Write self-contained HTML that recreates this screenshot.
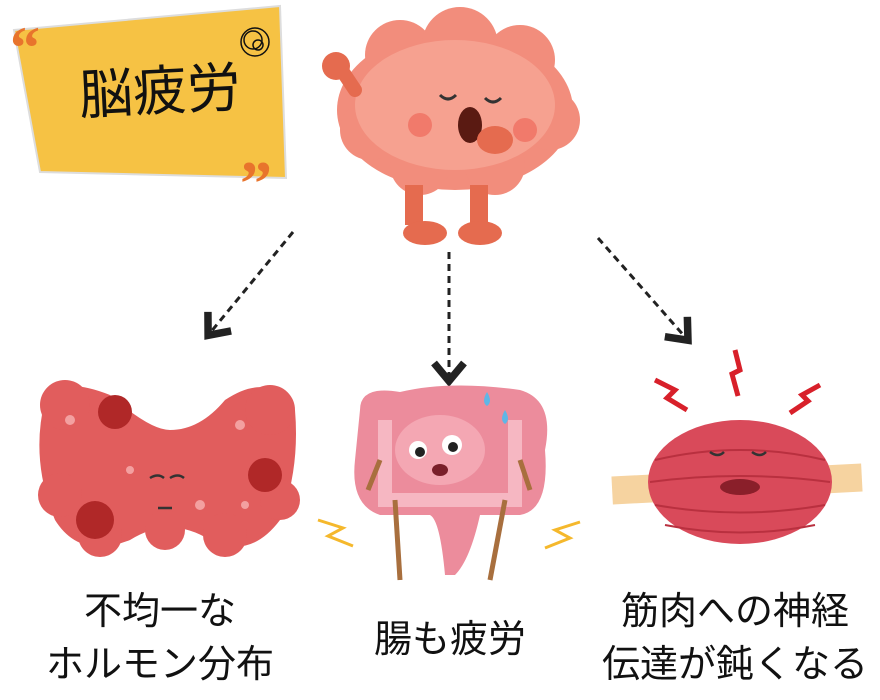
<!DOCTYPE html>
<html><head><meta charset="utf-8"><style>
html,body{margin:0;padding:0;background:#fff;width:880px;height:700px;overflow:hidden}
.t{position:absolute;font-family:"Liberation Sans","Noto Sans CJK JP",sans-serif;color:#111;font-size:38px;line-height:44px;text-align:center;white-space:nowrap}
</style></head><body>
<svg width="880" height="700" style="position:absolute;left:0;top:0">
<defs><marker id="a" markerWidth="12" markerHeight="12" refX="6" refY="6" orient="auto"><path d="M1,1 L7,6 L1,11" fill="none" stroke="#222" stroke-width="2.5"/></marker></defs>
<!-- card -->
<path d="M14,30 L280,6 L286,178 L40,172 Z" fill="#f6c244" stroke="#ddd" stroke-width="2"/>
<text x="10" y="68" font-size="60" fill="#e8742c" font-family="Liberation Serif" font-weight="bold">“</text>
<text x="240" y="205" font-size="64" fill="#e8742c" font-family="Liberation Serif" font-weight="bold">”</text>
<circle cx="255" cy="42" r="14" fill="none" stroke="#111" stroke-width="1.5"/>
<circle cx="253" cy="40" r="9" fill="none" stroke="#111" stroke-width="1.5"/>
<circle cx="258" cy="45" r="5" fill="none" stroke="#111" stroke-width="1.5"/>
<!-- brain -->
<g fill="#f28d7c">
<ellipse cx="455" cy="110" rx="118" ry="80"/>
<circle cx="400" cy="55" r="35"/><circle cx="460" cy="45" r="38"/><circle cx="520" cy="60" r="35"/>
<circle cx="550" cy="120" r="30"/><circle cx="370" cy="130" r="30"/><circle cx="420" cy="165" r="30"/><circle cx="495" cy="165" r="30"/>
</g>
<ellipse cx="455" cy="105" rx="100" ry="65" fill="#f6a190"/>
<path d="M335,60 L355,90" stroke="#e56b4f" stroke-width="14" stroke-linecap="round"/>
<circle cx="336" cy="66" r="14" fill="#e56b4f"/>
<rect x="405" y="185" width="18" height="40" fill="#e56b4f"/><rect x="470" y="185" width="18" height="40" fill="#e56b4f"/>
<ellipse cx="425" cy="233" rx="22" ry="12" fill="#e56b4f"/><ellipse cx="480" cy="233" rx="22" ry="12" fill="#e56b4f"/>
<ellipse cx="470" cy="125" rx="12" ry="18" fill="#5a1a12"/>
<ellipse cx="495" cy="140" rx="18" ry="14" fill="#e56b4f"/>
<circle cx="420" cy="125" r="12" fill="#f17a6b"/><circle cx="525" cy="130" r="12" fill="#f17a6b"/>
<path d="M440,95 q8,8 16,0 M485,98 q8,8 16,0" stroke="#333" stroke-width="3" fill="none"/>
<!-- arrows -->
<g stroke="#222" stroke-width="3" stroke-dasharray="7,5" fill="none">
<path d="M293,232 L210,333" marker-end="url(#a)"/>
<path d="M449,252 L449,378" marker-end="url(#a)"/>
<path d="M598,238 L686,338" marker-end="url(#a)"/>
</g>
<!-- thyroid -->
<g fill="#e15d5d">
<path d="M45,400 Q60,375 110,395 Q150,430 170,430 Q200,430 225,400 Q270,370 295,410 Q300,470 280,520 Q250,560 210,540 Q170,515 130,540 Q80,560 55,520 Q30,460 45,400 Z"/>
<circle cx="65" cy="405" r="25"/><circle cx="270" cy="410" r="25"/><circle cx="60" cy="495" r="22"/><circle cx="280" cy="500" r="20"/>
<circle cx="100" cy="535" r="22"/><circle cx="225" cy="535" r="22"/><circle cx="165" cy="530" r="20"/>
</g>
<circle cx="115" cy="412" r="17" fill="#b02828"/><circle cx="265" cy="475" r="17" fill="#b02828"/><circle cx="95" cy="520" r="19" fill="#b02828"/>
<g fill="#f3a0a0"><circle cx="70" cy="420" r="5"/><circle cx="240" cy="425" r="5"/><circle cx="200" cy="505" r="5"/><circle cx="130" cy="470" r="4"/><circle cx="245" cy="505" r="4"/></g>
<path d="M150,478 q8,-5 14,0 M170,478 q8,-5 14,0 M158,508 h14" stroke="#333" stroke-width="2.5" fill="none"/>
<!-- intestine -->
<path d="M360,410 Q360,385 400,392 Q450,380 520,390 Q555,400 545,450 Q550,510 520,515 L480,515 Q470,560 455,575 L445,575 Q440,520 430,515 L380,515 Q350,505 355,460 Z" fill="#ec8c9c"/>
<path d="M385,420 L385,500 L515,500 L515,420" stroke="#f6b7c2" stroke-width="14" fill="none"/>
<ellipse cx="440" cy="450" rx="45" ry="35" fill="#f4a7b3"/>
<circle cx="418" cy="450" r="9" fill="#fff"/><circle cx="452" cy="445" r="10" fill="#fff"/>
<circle cx="420" cy="452" r="5" fill="#222"/><circle cx="453" cy="447" r="5" fill="#222"/>
<ellipse cx="440" cy="470" rx="8" ry="6" fill="#7a1f2a"/>
<path d="M487,392 q6,10 0,14 q-6,-4 0,-14 M505,410 q6,10 0,14 q-6,-4 0,-14" fill="#5fb6e6"/>
<path d="M395,500 L400,580 M505,500 L490,580 M380,460 L368,490 M520,460 L530,490" stroke="#a86f3e" stroke-width="5"/>
<path d="M318,520 l25,8 l-15,8 l25,10 M580,522 l-25,8 l15,8 l-25,10" stroke="#f5b82c" stroke-width="3" fill="none"/>
<!-- muscle -->
<rect x="612" y="470" width="250" height="28" fill="#f6d3a0" transform="rotate(-3 737 484)"/>
<ellipse cx="740" cy="482" rx="92" ry="62" fill="#d94a5a"/>
<g stroke="#b9303f" stroke-width="2" fill="none">
<path d="M655,460 Q740,440 825,460"/><path d="M650,482 Q740,470 830,482"/><path d="M655,505 Q740,520 825,505"/><path d="M665,525 Q740,540 815,525"/></g>
<ellipse cx="740" cy="487" rx="20" ry="8" fill="#8a1f2a"/>
<path d="M710,452 q8,6 14,0 M752,452 q8,6 14,0" stroke="#333" stroke-width="2.5" fill="none"/>
<path d="M655,380 l20,10 l-8,8 l20,12 M735,350 l5,20 l-8,4 l6,22 M820,385 l-18,10 l6,6 l-18,12" stroke="#d8202a" stroke-width="5" fill="none"/>
</svg>
<div class="t" style="left:40px;top:62px;width:240px;font-size:54px;line-height:60px;transform:rotate(-3deg)">脳疲労</div>
<div class="t" style="left:40px;top:590px;width:240px">不均一な</div>
<div class="t" style="left:20px;top:643px;width:280px">ホルモン分布</div>
<div class="t" style="left:340px;top:618px;width:220px">腸も疲労</div>
<div class="t" style="left:590px;top:590px;width:290px">筋肉への神経</div>
<div class="t" style="left:590px;top:643px;width:290px">伝達が鈍くなる</div>
</body></html>
